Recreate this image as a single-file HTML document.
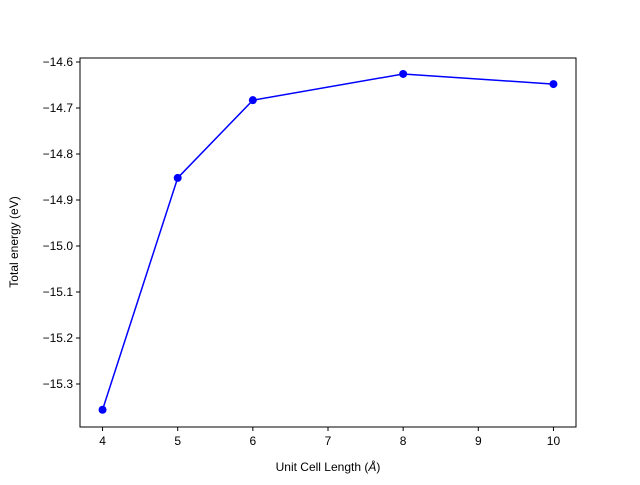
<!DOCTYPE html>
<html><head><meta charset="utf-8"><style>
body{margin:0;background:#fff}
text{font-family:"Liberation Sans","DejaVu Sans",sans-serif;font-size:12px;fill:#000}
</style></head><body>
<svg id="chart" width="640" height="480" xmlns="http://www.w3.org/2000/svg">
<rect width="640" height="480" fill="#fff"/>
<g id="grid"></g>
<rect x="80" y="58" width="496" height="369" fill="none" stroke="#000" stroke-width="1"/>
<text x="328" y="471" text-anchor="middle">Unit Cell Length (<tspan font-style="italic">Å</tspan>)</text>
<text transform="translate(18,242) rotate(-90)" text-anchor="middle">Total energy (eV)</text>
</svg>
<script>
const xValues=[4,5,6,8,10];
const yValues=[-15.356,-14.852,-14.683,-14.626,-14.648];
const xTicks=[4,5,6,7,8,9,10];
const yTicks=[-14.6,-14.7,-14.8,-14.9,-15.0,-15.1,-15.2,-15.3];
const xMin=3.7,xMax=10.3,yMin=-15.3935,yMax=-14.5913;
const L=80,R=576,T=58,B=427;
const sx=v=>L+(v-xMin)/(xMax-xMin)*(R-L);
const sy=v=>B-(v-yMin)/(yMax-yMin)*(B-T);
const svg=document.getElementById('chart');
const NS='http://www.w3.org/2000/svg';
function mk(t,a){const e=document.createElementNS(NS,t);for(const k in a)e.setAttribute(k,a[k]);svg.appendChild(e);return e;}
xTicks.forEach(v=>{
 const x=sx(v);
 const tk=mk('line',{x1:x,x2:x,y1:B,y2:B+4,stroke:'#000'});
 
 
 const t=mk('text',{x:x,y:B+18,'text-anchor':'middle'});t.textContent=v;
 
 
});
yTicks.forEach(v=>{
 const y=sy(v);
 const tk=mk('line',{x1:L-4,x2:L,y1:y,y2:y,stroke:'#000'});
 
 
 const t=mk('text',{x:L-7,y:y+4,'text-anchor':'end'});t.textContent='\u2212'+Math.abs(v).toFixed(1);
 
 
});
const pl=mk('polyline',{points:xValues.map((v,i)=>sx(v)+','+sy(yValues[i])).join(' '),fill:'none',stroke:'#0000ff','stroke-width':1.5});


xValues.forEach((v,i)=>{
 const c=mk('circle',{cx:sx(v),cy:sy(yValues[i]),r:4,fill:'#0000ff'});
 
 
});
</script>
</body></html>
